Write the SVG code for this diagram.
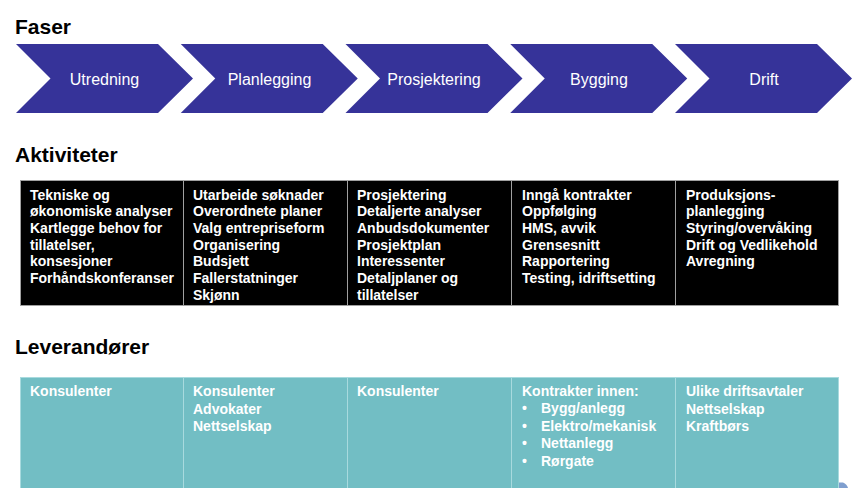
<svg xmlns="http://www.w3.org/2000/svg" width="854" height="488" viewBox="0 0 854 488">
<style>
.title{font-family:"Liberation Sans",Arial,sans-serif;font-weight:bold;font-size:21px;fill:#000}
.chev{fill:#363399}
.chevt{font-family:"Liberation Sans",Arial,sans-serif;font-size:16px;fill:#fff;text-anchor:middle}
.act{fill:#000;stroke:#a0a0a0;stroke-width:1}
.actt{font-family:"Liberation Sans",Arial,sans-serif;font-weight:bold;font-size:14px;fill:#fff}
.lev{fill:#72BEC4;stroke:#a8dade;stroke-width:1}
.levt{font-family:"Liberation Sans",Arial,sans-serif;font-weight:bold;font-size:14px;fill:#fff}
</style>
<rect width="854" height="488" fill="#fff"/>
<text class="title" x="15" y="33.5">Faser</text>
<text class="title" x="15" y="162">Aktiviteter</text>
<text class="title" x="15" y="354">Leverandører</text>

<g id="phase-utredning">
<polygon class="chev" points="16,44 158,44 193,78.5 158,113 16,113 50.5,78.5"/>
<text class="chevt" x="104.5" y="85">Utredning</text>
</g>
<g id="phase-planlegging">
<polygon class="chev" points="180.75,44 322.75,44 357.75,78.5 322.75,113 180.75,113 215.25,78.5"/>
<text class="chevt" x="269.5" y="85">Planlegging</text>
</g>
<g id="phase-prosjektering">
<polygon class="chev" points="345.5,44 487.5,44 522.5,78.5 487.5,113 345.5,113 380,78.5"/>
<text class="chevt" x="434" y="85">Prosjektering</text>
</g>
<g id="phase-bygging">
<polygon class="chev" points="510.25,44 652.25,44 687.25,78.5 652.25,113 510.25,113 544.75,78.5"/>
<text class="chevt" x="599" y="85">Bygging</text>
</g>
<g id="phase-drift">
<polygon class="chev" points="675,44 817,44 852,78.5 817,113 675,113 709.5,78.5"/>
<text class="chevt" x="764" y="85">Drift</text>
</g>

<g id="act-utredning">
<rect class="act" x="20.5" y="180.5" width="163" height="125"/>
<text class="actt" x="30" y="199.5">Tekniske og<tspan x="30" dy="16.67">økonomiske analyser</tspan><tspan x="30" dy="16.67">Kartlegge behov for</tspan><tspan x="30" dy="16.67">tillatelser,</tspan><tspan x="30" dy="16.67">konsesjoner</tspan><tspan x="30" dy="16.67">Forhåndskonferanser</tspan></text>
</g>
<g id="act-planlegging">
<rect class="act" x="183.5" y="180.5" width="164" height="125"/>
<text class="actt" x="193" y="199.5">Utarbeide søknader<tspan x="193" dy="16.67">Overordnete planer</tspan><tspan x="193" dy="16.67">Valg entrepriseform</tspan><tspan x="193" dy="16.67">Organisering</tspan><tspan x="193" dy="16.67">Budsjett</tspan><tspan x="193" dy="16.67">Fallerstatninger</tspan><tspan x="193" dy="16.67">Skjønn</tspan></text>
</g>
<g id="act-prosjektering">
<rect class="act" x="347.5" y="180.5" width="164" height="125"/>
<text class="actt" x="357" y="199.5">Prosjektering<tspan x="357" dy="16.67">Detaljerte analyser</tspan><tspan x="357" dy="16.67">Anbudsdokumenter</tspan><tspan x="357" dy="16.67">Prosjektplan</tspan><tspan x="357" dy="16.67">Interessenter</tspan><tspan x="357" dy="16.67">Detaljplaner og</tspan><tspan x="357" dy="16.67">tillatelser</tspan></text>
</g>
<g id="act-bygging">
<rect class="act" x="511.5" y="180.5" width="164" height="125"/>
<text class="actt" x="522" y="199.5">Inngå kontrakter<tspan x="522" dy="16.67">Oppfølging</tspan><tspan x="522" dy="16.67">HMS, avvik</tspan><tspan x="522" dy="16.67">Grensesnitt</tspan><tspan x="522" dy="16.67">Rapportering</tspan><tspan x="522" dy="16.67">Testing, idriftsetting</tspan></text>
</g>
<g id="act-drift">
<rect class="act" x="675.5" y="180.5" width="163" height="125"/>
<text class="actt" x="686" y="199.5">Produksjons-<tspan x="686" dy="16.67">planlegging</tspan><tspan x="686" dy="16.67">Styring/overvåking</tspan><tspan x="686" dy="16.67">Drift og Vedlikehold</tspan><tspan x="686" dy="16.67">Avregning</tspan></text>
</g>

<g id="lev-utredning">
<rect class="lev" x="20.5" y="377.5" width="163" height="120"/>
<text class="levt" x="30" y="396">Konsulenter</text>
</g>
<g id="lev-planlegging">
<rect class="lev" x="183.5" y="377.5" width="164" height="120"/>
<text class="levt" x="193" y="396">Konsulenter<tspan x="193" dy="17.5">Advokater</tspan><tspan x="193" dy="17.5">Nettselskap</tspan></text>
</g>
<g id="lev-prosjektering">
<rect class="lev" x="347.5" y="377.5" width="164" height="120"/>
<text class="levt" x="357" y="396">Konsulenter</text>
</g>
<g id="lev-bygging">
<rect class="lev" x="511.5" y="377.5" width="164" height="120"/>
<text class="levt" x="522" y="396">Kontrakter innen:</text>
<text class="levt" x="522" y="413.4">•<tspan x="541" >Bygg/anlegg</tspan></text>
<text class="levt" x="522" y="430.8">•<tspan x="541">Elektro/mekanisk</tspan></text>
<text class="levt" x="522" y="448.2">•<tspan x="541">Nettanlegg</tspan></text>
<text class="levt" x="522" y="465.6">•<tspan x="541">Rørgate</tspan></text>
</g>
<g id="lev-drift">
<rect class="lev" x="675.5" y="377.5" width="163" height="120"/>
<text class="levt" x="686" y="396">Ulike driftsavtaler<tspan x="686" dy="17.5">Nettselskap</tspan><tspan x="686" dy="17.5">Kraftbørs</tspan></text>
</g>

<path d="M839,482.5 L843,482.5 Q847,484 848,488 L839,488 Z" fill="#7F9FCF"/>
<g id="connectors"/>
</svg>
